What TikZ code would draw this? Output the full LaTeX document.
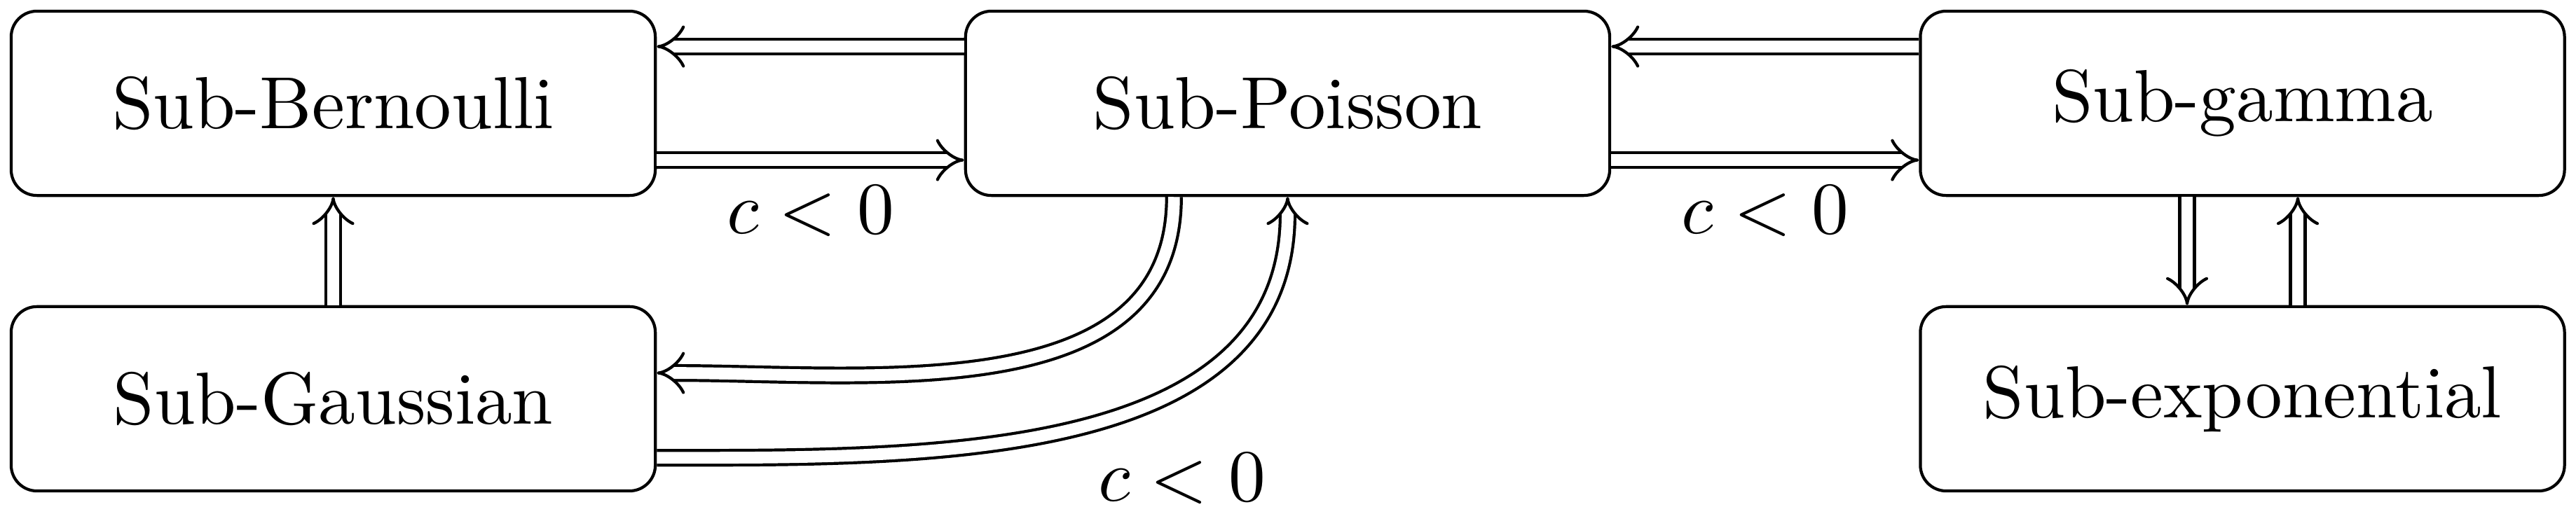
\documentclass[tikz,border=0pt]{standalone}
\usetikzlibrary{arrows.meta}
\begin{document}
\begin{tikzpicture}[
  box/.style={draw, line width=0.4pt, rounded corners=3.5pt, minimum width=87.3pt, minimum height=25pt, inner sep=0pt},
  imp/.style={double, double distance=1.6pt, line width=0.4pt, -{Implies}},
  lbl/.style={inner sep=3.33pt}
]
\useasboundingbox (0pt,0pt) rectangle (349.1pt,-69.7pt);
\node[box] (B)  at (45.16pt,-14.01pt) {Sub-Bernoulli};
\node[box] (P)  at (174.5pt,-14.01pt) {Sub-Poisson};
\node[box] (Gm) at (303.9pt,-14.01pt) {Sub-gamma};
\node[box] (Ga) at (45.16pt,-54.08pt) {Sub-Gaussian};
\node[box] (E)  at (303.9pt,-54.08pt) {Sub-exponential};

\draw[imp] ([yshift=7.7pt]P.west) -- ([yshift=7.7pt]B.east);
\draw[imp] ([yshift=-7.7pt]B.east) -- node[lbl, below] {$c<0$} ([yshift=-7.7pt]P.west);
\draw[imp] ([yshift=7.7pt]Gm.west) -- ([yshift=7.7pt]P.east);
\draw[imp] ([yshift=-7.7pt]P.east) -- node[lbl, below] {$c<0$} ([yshift=-7.7pt]Gm.west);
\draw[imp] ([xshift=-7.5pt]Gm.south) -- ([xshift=-7.5pt]E.north);
\draw[imp] ([xshift=7.5pt]E.north) -- ([xshift=7.5pt]Gm.south);
\draw[imp] (Ga.north) -- (B.south);
\draw[imp] ([xshift=-15.4pt]P.south) to[out=-90,in=0] ([yshift=3.5pt]Ga.east);
\draw[imp] ([yshift=-8pt]Ga.east) to[out=0,in=-90] node[lbl, pos=0.5, anchor=north west] {$c<0$} (P.south);
\end{tikzpicture}
\end{document}
